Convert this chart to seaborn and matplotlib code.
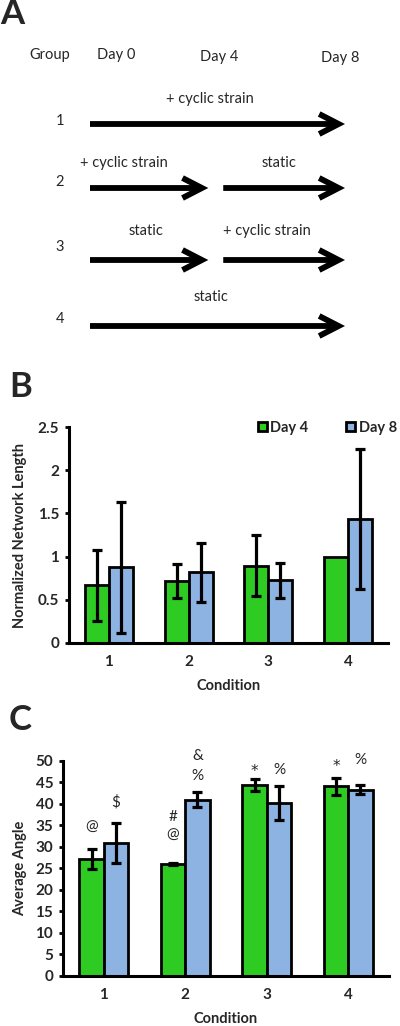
import numpy as np
import pandas as pd
import matplotlib
matplotlib.use("Agg")
import matplotlib.pyplot as plt
import seaborn as sns
from matplotlib.patches import Patch

sns.set_theme(style="white")
plt.rcParams['font.family'] = ['Lato', 'DejaVu Sans']

# ---------------- data ----------------
conditions = ['1', '2', '3', '4']
days = ['Day 4', 'Day 8']

length_day4 = [0.67, 0.72, 0.895, 1.0]
length_day8 = [0.875, 0.82, 0.725, 1.43]
length_err_day4 = [0.41, 0.20, 0.355, 0.0]
length_err_day8 = [0.76, 0.34, 0.20, 0.81]

angle_day4 = [27.2, 26.0, 44.3, 44.1]
angle_day8 = [30.9, 41.0, 40.2, 43.3]
angle_err_day4 = [2.3, 0.3, 1.4, 2.0]
angle_err_day8 = [4.7, 1.7, 4.0, 1.1]

# significance marks: (condition index, day index, text, y in data units)
angle_marks = [
    (0, 0, '@', 34.7), (0, 1, '$', 40.3),
    (1, 0, '#', 37.0), (1, 0, '@', 32.8),
    (1, 1, '&', 51.2), (1, 1, '%', 46.6),
    (2, 0, '*', 47.6), (2, 1, '%', 48.0),
    (3, 0, '*', 48.8), (3, 1, '%', 50.2),
]

# schedule diagram (panel A)
group_labels = ['1', '2', '3', '4']
schedule = [
    [(0, 8, '+ cyclic strain')],
    [(0, 4, '+ cyclic strain'), (4, 8, 'static')],
    [(0, 4, 'static'), (4, 8, '+ cyclic strain')],
    [(0, 8, 'static')],
]
header_days = ['Day 0', 'Day 4', 'Day 8']

GREEN = '#2ECC22'
BLUE = '#8DB3E2'

W, H = 400, 1026
fig = plt.figure(figsize=(W / 100, H / 100), dpi=100)


def rect(x0, y0, x1, y1):
    """pixel box (top-left origin) -> figure fraction rect"""
    return [x0 / W, 1 - y1 / H, (x1 - x0) / W, (y1 - y0) / H]


# ---------------- panel A ----------------
px_per_day = 31.875
x0_px = 90
axA = fig.add_axes(rect(0, 0, 400, 340))
axA.set_xlim(-x0_px / px_per_day, (W - x0_px) / px_per_day)
axA.set_ylim(340, 0)
axA.axis('off')

fsA = 10.5
axA.text(50 / px_per_day - x0_px / px_per_day, 55, 'Group', ha='center', va='center', fontsize=fsA)
hdr_x = [0.82, 4.05, 7.85]
hdr_y = [55, 57, 58]
for lab, hx, hy in zip(header_days, hdr_x, hdr_y):
    axA.text(hx, hy, lab, ha='center', va='center', fontsize=fsA)

row_y = [124, 188, 260, 326]
num_y = [121, 182, 247, 319]
label_dx = [[-0.25], [-0.8, -0.15], [-0.1, -0.55], [-0.2]]
gap = 0.18
for gi, (g, segs) in enumerate(zip(group_labels, schedule)):
    y = row_y[gi]
    axA.text(-0.95, num_y[gi], g, ha='center', va='center', fontsize=fsA)
    for si, (s, e, lab) in enumerate(segs):
        xs = s + (gap if s > 0 else 0)
        xe = e - (gap * 1.6 if e < 8 else 0)
        axA.annotate('', xy=(xe, y), xytext=(xs, y),
                     arrowprops=dict(arrowstyle='->,head_length=0.7,head_width=0.36',
                                     lw=4.2, color='black', mutation_scale=20,
                                     shrinkA=0, shrinkB=0, joinstyle='miter',
                                     capstyle='butt'))
        ly = y - 25 if gi < 2 else y - 29
        axA.text((xs + xe) / 2 + label_dx[gi][si], ly, lab, ha='center', va='center', fontsize=fsA)


def style_axes(ax):
    for sp in ['top', 'right']:
        ax.spines[sp].set_visible(False)
    for sp in ['left', 'bottom']:
        ax.spines[sp].set_linewidth(2.2)
        ax.spines[sp].set_color('black')
    ax.set_xlim(-0.5, 3.5)
    ax.set_xticks(np.arange(len(conditions)))
    ax.set_xticklabels(conditions, fontweight='bold', fontsize=11)
    ax.set_xticks(np.arange(-0.5, len(conditions), 1.0), minor=True)
    ax.tick_params(axis='x', which='major', length=0, pad=9)
    ax.tick_params(axis='x', which='minor', length=4, width=2, direction='out', color='black')
    ax.tick_params(axis='y', length=3, width=2, direction='out', color='black', pad=4, left=True)
    for t in ax.get_yticklabels():
        t.set_fontweight('bold')
        t.set_fontsize(11)
    ax.set_xlabel('Condition', fontweight='bold', fontsize=10.5, labelpad=7)
    ax.grid(False)


def add_errors(ax, errs_list):
    for cont, errs in zip(ax.containers, errs_list):
        for bar, e in zip(cont, errs):
            if e <= 0:
                continue
            cx = bar.get_x() + bar.get_width() / 2
            ax.errorbar(cx, bar.get_height(), yerr=e, color='black', capsize=3.5,
                        elinewidth=2.3, capthick=2.3, fmt='none', zorder=5)


# ---------------- panel B ----------------
dfB = pd.DataFrame({
    'Condition': conditions * 2,
    'Day': [days[0]] * 4 + [days[1]] * 4,
    'value': length_day4 + length_day8,
})
axB = fig.add_axes(rect(69, 427, 388, 643))
sns.barplot(data=dfB, x='Condition', y='value', hue='Day', palette=[GREEN, BLUE],
            width=0.6, edgecolor='black', linewidth=2.0, errorbar=None, ax=axB,
            saturation=1, legend=False)
add_errors(axB, [length_err_day4, length_err_day8])
axB.set_ylim(0, 2.5)
axB.set_yticks([0, 0.5, 1, 1.5, 2, 2.5])
axB.set_yticklabels(['0', '0.5', '1', '1.5', '2', '2.5'])
style_axes(axB)
axB.set_ylabel('Normalized Network Length', fontweight='bold', fontsize=10.5, labelpad=8)
handles = [Patch(facecolor=GREEN, edgecolor='black', linewidth=2.0),
           Patch(facecolor=BLUE, edgecolor='black', linewidth=2.0)]
fig.legend(handles, days, ncol=2, frameon=False, loc='center left',
           bbox_to_anchor=(258 / W, 1 - 428 / H), handlelength=0.6, handleheight=0.6,
           handletextpad=0.25, columnspacing=2.6, borderaxespad=0, borderpad=0,
           prop={'weight': 'bold', 'size': 10.5})

# ---------------- panel C ----------------
dfC = pd.DataFrame({
    'Condition': conditions * 2,
    'Day': [days[0]] * 4 + [days[1]] * 4,
    'value': angle_day4 + angle_day8,
})
axC = fig.add_axes(rect(63, 761, 389, 975.7))
sns.barplot(data=dfC, x='Condition', y='value', hue='Day', palette=[GREEN, BLUE],
            width=0.6, edgecolor='black', linewidth=2.0, errorbar=None, ax=axC,
            saturation=1, legend=False)
add_errors(axC, [angle_err_day4, angle_err_day8])
axC.set_ylim(0, 50)
axC.set_yticks(np.arange(0, 51, 5))
style_axes(axC)
axC.set_ylabel('Average Angle', fontweight='bold', fontsize=10.5, labelpad=6)
for ci, di, txt, yv in angle_marks:
    bar = axC.containers[di][ci]
    fam = ['DejaVu Sans'] if txt == '*' else ['Lato', 'DejaVu Sans']
    axC.text(bar.get_x() + bar.get_width() / 2, yv, txt, ha='center', va='center',
             fontsize=11, family=fam, clip_on=False)

# panel letters
fig.text(0 / W, 1 - 24 / H, 'A', fontsize=25, fontweight='bold', ha='left', va='baseline')
fig.text(9 / W, 1 - 397 / H, 'B', fontsize=25, fontweight='bold', ha='left', va='baseline')
fig.text(9 / W, 1 - 730 / H, 'C', fontsize=25, fontweight='bold', ha='left', va='baseline')

fig.savefig('out.png', dpi=100, facecolor='white')
